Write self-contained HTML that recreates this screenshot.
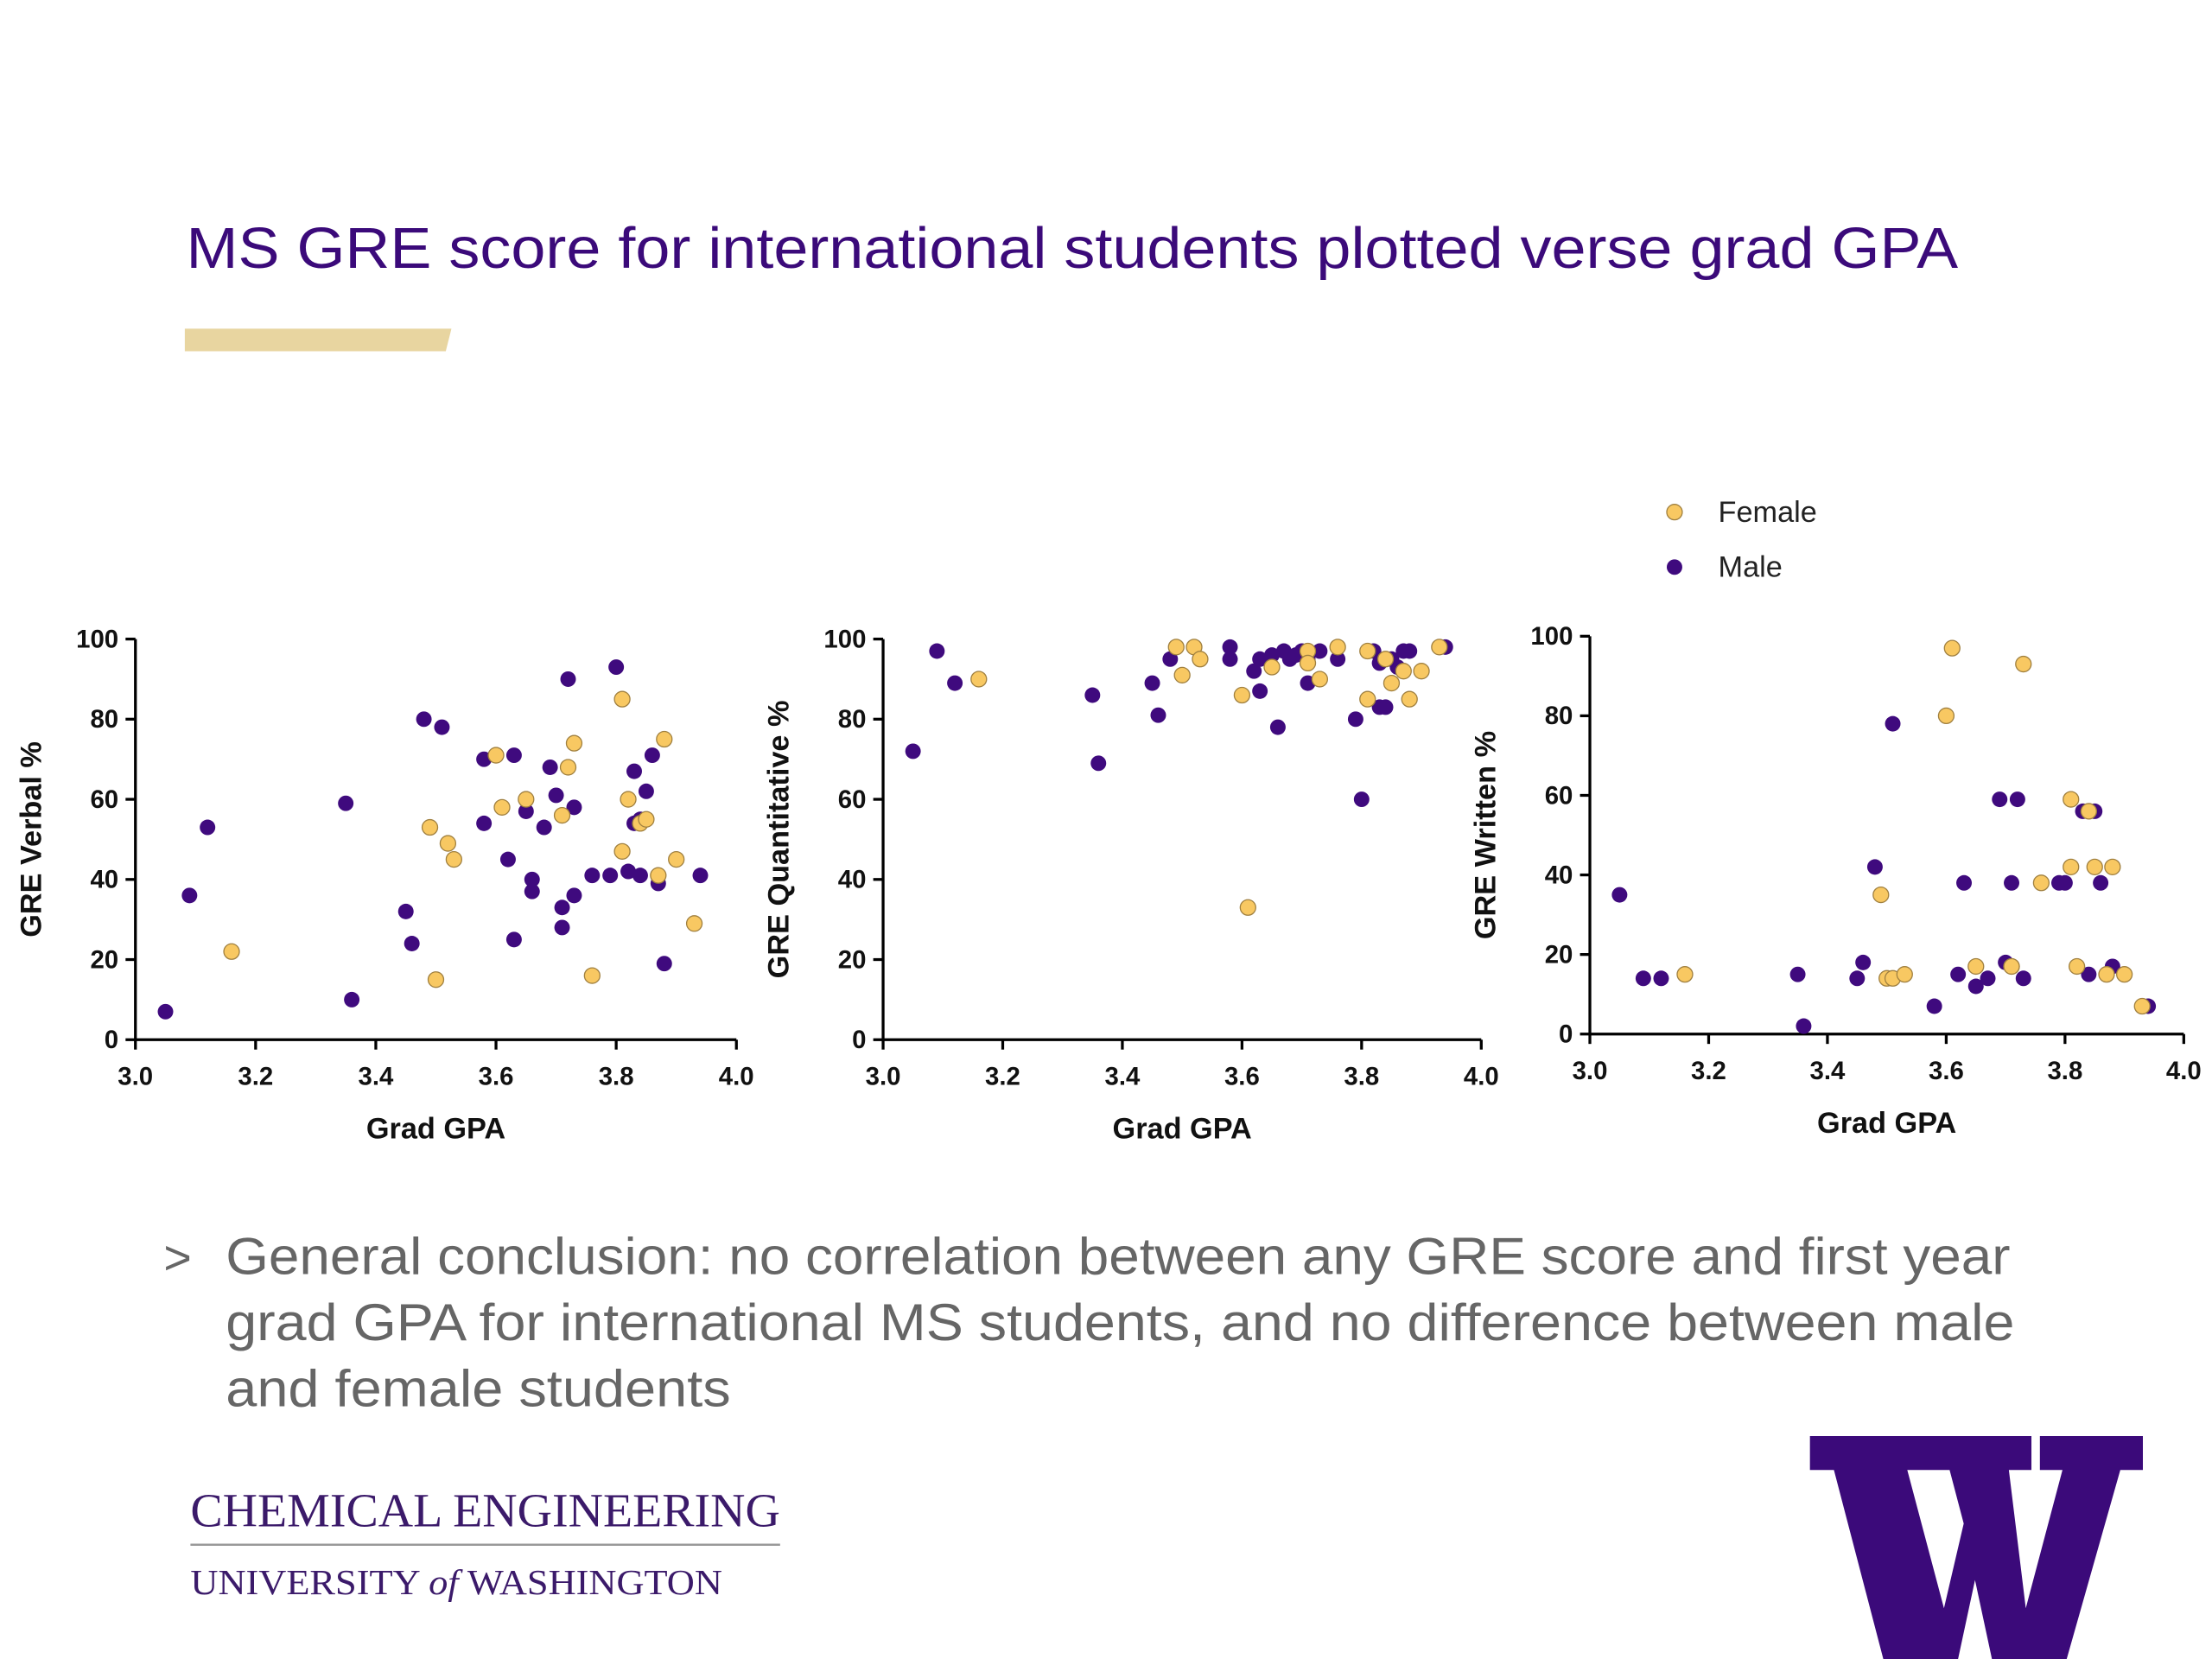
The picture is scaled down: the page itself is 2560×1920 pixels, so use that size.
<!DOCTYPE html>
<html><head><meta charset="utf-8"><style>
html,body{margin:0;padding:0;background:#fff;}
svg{display:block;}
</style></head><body>
<svg id="page" width="2560" height="1920" viewBox="0 0 1568 1176" xmlns="http://www.w3.org/2000/svg" font-family="Liberation Sans, sans-serif">
<text x="132" y="190" font-size="41" fill="#3b0a7a" textLength="1256" lengthAdjust="spacingAndGlyphs">MS GRE score for international students plotted verse grad GPA</text>
<polygon points="131,233 320,233 316,249 131,249" fill="#e8d5a0"/>
<g id="charts"></g>
<g>
<circle cx="1187" cy="363" r="5.5" fill="#f8c862" stroke="#a08040" stroke-width="0.8"/>
<text x="1218" y="370" font-size="21" fill="#222">Female</text>
<circle cx="1187" cy="402" r="5.5" fill="#3f0a7e"/>
<text x="1218" y="409" font-size="21" fill="#222">Male</text>
</g>
<g fill="#666" font-size="37">
<text x="116" y="903" font-size="34">&gt;</text>
<text x="160" y="903" textLength="1265" lengthAdjust="spacingAndGlyphs">General conclusion: no correlation between any GRE score and first year</text>
<text x="160" y="950" textLength="1268" lengthAdjust="spacingAndGlyphs">grad GPA for international MS students, and no difference between male</text>
<text x="160" y="997" textLength="358" lengthAdjust="spacingAndGlyphs">and female students</text>
</g>
<g font-family="Liberation Serif, serif" fill="#3b1a6a">
<text x="135" y="1082" font-size="34" textLength="418" lengthAdjust="spacingAndGlyphs">CHEMICAL ENGINEERING</text>
<line x1="135" y1="1095" x2="553" y2="1095" stroke="#999" stroke-width="1.5"/>
<text x="135" y="1130" font-size="25" textLength="377" lengthAdjust="spacingAndGlyphs">UNIVERSITY <tspan font-style="italic">of</tspan> WASHINGTON</text>
</g>
<polygon fill="#3b0a7a" points="1283,1018 1368,1018 1368,1042 1352,1042 1378,1140 1392,1080 1382,1042 1366,1042 1366,1018 1440,1018 1440,1042 1424,1042 1436,1140 1462,1042 1446,1042 1446,1018 1519,1018 1519,1042 1503,1042 1465,1176 1412,1176 1400,1120 1388,1176 1335,1176 1300,1042 1283,1042"/>
</svg>
<script>
const xTicks = ["3.0","3.2","3.4","3.6","3.8","4.0"];
const yTicks = ["0","20","40","60","80","100"];
const verbalMaleGPA = [3.05,3.09,3.12,3.35,3.36,3.45,3.46,3.48,3.51,3.58,3.58,3.62,3.63,3.63,3.65,3.66,3.66,3.68,3.69,3.70,3.71,3.71,3.72,3.73,3.73,3.76,3.79,3.80,3.82,3.83,3.83,3.84,3.85,3.86,3.87,3.88,3.94,3.84];
const verbalMale = [7,36,53,59,10,32,24,80,78,54,70,45,71,25,57,40,37,53,68,61,28,33,90,58,36,41,41,93,42,54,67,41,62,71,39,19,41,55];
const verbalFemaleGPA = [3.16,3.49,3.50,3.52,3.53,3.60,3.61,3.65,3.71,3.72,3.73,3.76,3.81,3.81,3.82,3.84,3.85,3.87,3.88,3.90,3.93];
const verbalFemale = [22,53,15,49,45,71,58,60,56,68,74,16,85,47,60,54,55,41,75,45,29];
const quantMaleGPA = [3.05,3.09,3.12,3.35,3.36,3.45,3.46,3.48,3.50,3.58,3.58,3.62,3.63,3.63,3.65,3.66,3.67,3.68,3.69,3.70,3.71,3.71,3.73,3.76,3.79,3.80,3.82,3.83,3.83,3.84,3.85,3.86,3.87,3.88,3.94];
const quantMale = [72,97,89,86,69,89,81,95,91,98,95,92,95,87,96,78,97,95,96,97,95,89,97,95,80,60,97,94,83,83,95,93,97,97,98];
const quantFemaleGPA = [3.16,3.49,3.52,3.53,3.50,3.60,3.61,3.65,3.71,3.71,3.73,3.76,3.81,3.81,3.84,3.85,3.87,3.88,3.90,3.93];
const quantFemale = [90,98,98,95,91,86,33,93,97,94,90,98,97,85,95,89,92,85,92,98];
const writMaleGPA = [3.05,3.09,3.12,3.35,3.36,3.45,3.46,3.48,3.51,3.58,3.62,3.63,3.65,3.67,3.69,3.70,3.71,3.72,3.73,3.79,3.80,3.83,3.85,3.86,3.84,3.88,3.94];
const writMale = [35,14,14,15,2,14,18,42,78,7,15,38,12,14,59,18,38,59,14,38,38,56,56,38,15,17,7];
const writFemaleGPA = [3.16,3.49,3.50,3.51,3.53,3.60,3.61,3.65,3.71,3.71,3.73,3.76,3.81,3.81,3.82,3.84,3.85,3.87,3.88,3.90,3.93];
const writFemale = [15,35,14,14,15,80,97,17,17,17,93,38,59,42,17,56,42,15,42,15,7];

const NS = "http://www.w3.org/2000/svg";
const root = document.getElementById("charts");
function mk(tag, attrs, parent){ const e=document.createElementNS(NS,tag); for(const k in attrs) e.setAttribute(k,attrs[k]); parent.appendChild(e); return e; }

function chart(name, title, x0, x1, y0, y1, mGPA, mVal, fGPA, fVal){
  const g = mk("g", {}, root);
  
  
  const sx = v => x0 + (v - 3.0) / 1.0 * (x1 - x0);
  const sy = v => y0 - v / 100 * (y0 - y1);
  const ax = mk("path", {d:`M${x0},${y1} V${y0} H${x1}`, stroke:"#000", "stroke-width":2, fill:"none"}, g);
  
  
  xTicks.forEach(t => {
    const x = sx(parseFloat(t));
    mk("line", {x1:x, x2:x, y1:y0, y2:y0+7, stroke:"#000", "stroke-width":2}, g);
    const tx = mk("text", {x:x, y:y0+32, "font-size":18, "font-weight":"bold", "text-anchor":"middle", fill:"#111"}, g);
    
    
    tx.textContent = t;
  });
  yTicks.forEach(t => {
    const y = sy(parseFloat(t));
    mk("line", {x1:x0-7, x2:x0, y1:y, y2:y, stroke:"#000", "stroke-width":2}, g);
    const tx = mk("text", {x:x0-12, y:y+6, "font-size":18, "font-weight":"bold", "text-anchor":"end", fill:"#111"}, g);
    
    
    tx.textContent = t;
  });
  const xt = mk("text", {x:(x0+x1)/2, y:y0+70, "font-size":21, "font-weight":"bold", "text-anchor":"middle", fill:"#111"}, g);
  
  
  xt.textContent = "Grad GPA";
  const cy = (y0+y1)/2;
  const yt = mk("text", {x:x0-67, y:cy, "font-size":21, "font-weight":"bold", "text-anchor":"middle", fill:"#111", transform:`rotate(-90 ${x0-67} ${cy})`}, g);
  
  
  yt.textContent = title;
  mGPA.forEach((v,i) => {
    const c = mk("circle", {cx:sx(v), cy:sy(mVal[i]), r:5.5, fill:"#3f0a7e"}, g);
    
    
  });
  fGPA.forEach((v,i) => {
    const c = mk("circle", {cx:sx(v), cy:sy(fVal[i]), r:5.5, fill:"#f8c862", stroke:"#a08040", "stroke-width":0.8}, g);
    
    
  });
}
chart("verbal-chart", "GRE Verbal %", 96, 522, 737, 453, verbalMaleGPA, verbalMale, verbalFemaleGPA, verbalFemale);
chart("quantitative-chart", "GRE Quantitative %", 626, 1050, 737, 453, quantMaleGPA, quantMale, quantFemaleGPA, quantFemale);
chart("written-chart", "GRE Written %", 1127, 1548, 733, 451, writMaleGPA, writMale, writFemaleGPA, writFemale);
</script>
</body></html>
